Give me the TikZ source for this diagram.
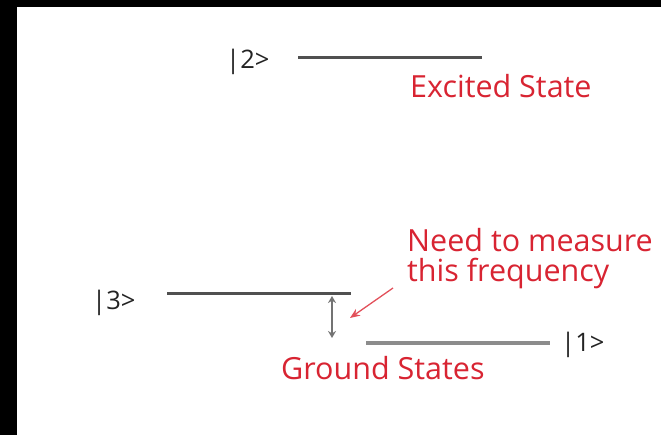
\documentclass[tikz,border=0pt]{standalone}
\usepackage{fontspec}
\setmainfont{Open Sans}
\usetikzlibrary{arrows.meta}
\definecolor{lblred}{RGB}{216,36,50}
\definecolor{arrred}{RGB}{226,80,90}
\definecolor{levelgray}{RGB}{80,80,80}
\definecolor{levellight}{RGB}{140,140,140}
\definecolor{ketcol}{RGB}{35,35,35}
\begin{document}
\begin{tikzpicture}[x=1pt,y=-1pt,
  lbl/.style={text=lblred,inner sep=0pt,anchor=base west,font=\fontsize{30.5}{32}\selectfont},
  ket/.style={text=ketcol,inner sep=0pt,anchor=base west,font=\fontsize{25.5}{27}\selectfont},
  level/.style={draw=levelgray,line width=3pt},
  levellt/.style={draw=levellight,line width=3.2pt},
  gap/.style={draw=gray!90!black,line width=1.9pt,{Stealth[length=7pt,width=8pt]}-{Stealth[length=7pt,width=8pt]}},
  pointer/.style={draw=arrred,line width=1.3pt,-{Stealth[length=10pt,width=8pt]}}]
\useasboundingbox (0,0) rectangle (661,435);
\fill[black] (0,0) rectangle (17,435);
\fill[black] (0,0) rectangle (661,7.5);
% level coordinates
\coordinate (l2a) at (298,58);
\coordinate (l2b) at (482,58);
\coordinate (l3a) at (167,294);
\coordinate (l3b) at (351,294);
\coordinate (l1a) at (366,343);
\coordinate (l1b) at (550,343);
\coordinate (gtop) at (332,296);
\coordinate (gbot) at (332,338);
\coordinate (ptail) at (393,288);
\coordinate (phead) at (350,318);
% kets
\node[ket] (k2) at (226,69) {|2>};
\node[ket] (k3) at (92,310) {|3>};
\node[ket] (k1) at (561,352) {|1>};
% labels
\node[lbl] (exc) at (410,98) {Excited State};
\node[lbl] (meas1) at (407,252) {Need to measure};
\node[lbl] (meas2) at (407,282) {this frequency};
\node[lbl] (gnd) at (281,379) {Ground States};
% levels
\draw[level] (l2a) -- (l2b);
\draw[level] (l3a) -- (l3b);
\draw[levellt] (l1a) -- (l1b);
% arrows
\draw[gap] (gtop) -- (gbot);
\draw[pointer] (ptail) -- (phead);
\end{tikzpicture}
\end{document}
